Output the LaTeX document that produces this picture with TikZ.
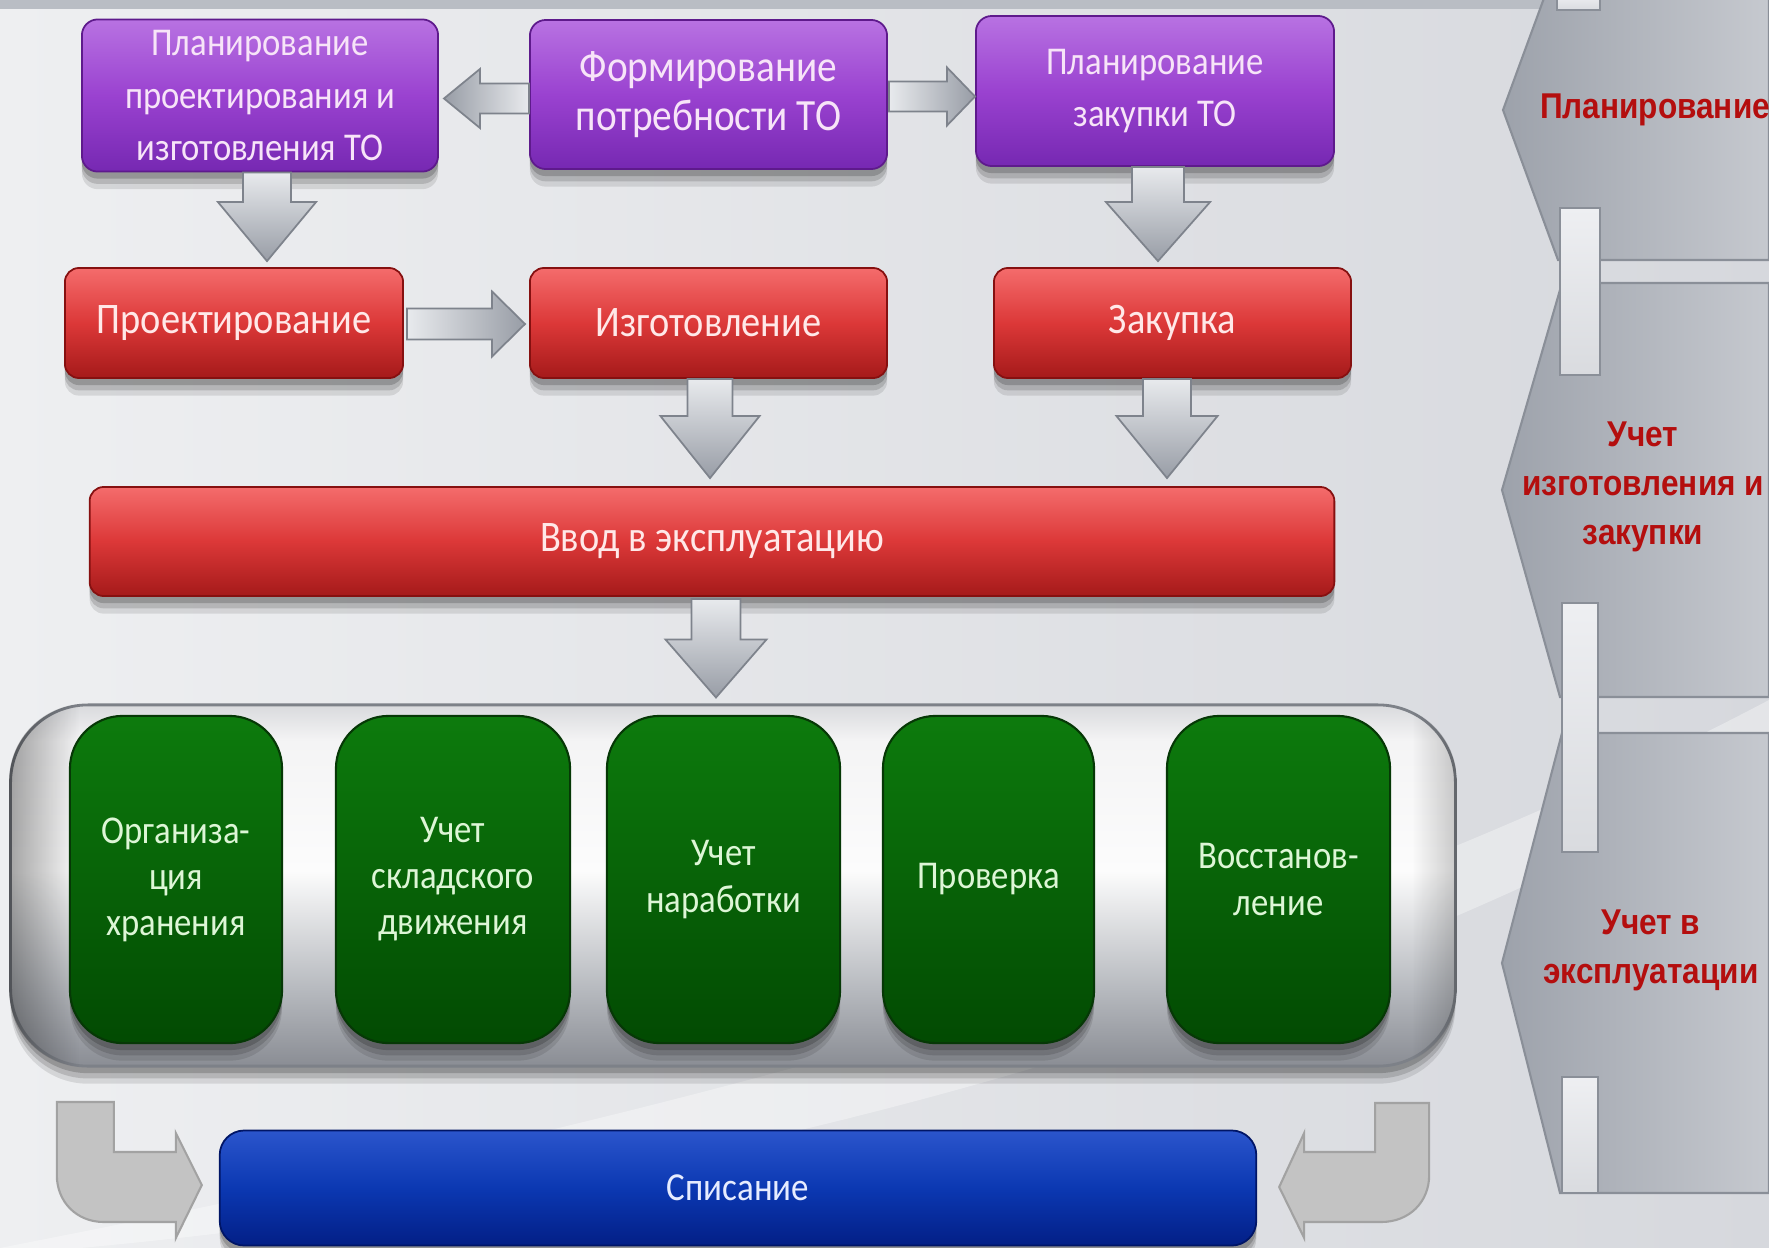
\documentclass[tikz,border=0pt]{standalone}
\usepackage{fontspec}
\setmainfont{Carlito}[FakeStretch=0.88]
\newfontfamily\labfont{Liberation Sans}[FakeStretch=0.88]
\usetikzlibrary{calc,shadows,fadings}

\definecolor{bgA}{HTML}{EEEFF1}
\definecolor{bgB}{HTML}{D6D8DD}
\definecolor{stripC}{HTML}{B9BDC4}
\definecolor{purT}{HTML}{B872E2}
\definecolor{purM}{HTML}{9A42D0}
\definecolor{purB}{HTML}{7628B2}
\definecolor{purE}{HTML}{5E1A8C}
\definecolor{purTxt}{HTML}{F7E4F8}
\definecolor{redT}{HTML}{F46C6C}
\definecolor{redM}{HTML}{DC3838}
\definecolor{redB}{HTML}{A51A1A}
\definecolor{redE}{HTML}{861010}
\definecolor{redTxt}{HTML}{FFE8E8}
\definecolor{grnT}{HTML}{0D7B0D}
\definecolor{grnB}{HTML}{024A02}
\definecolor{grnE}{HTML}{063806}
\definecolor{grnTxt}{HTML}{DDF6D6}
\definecolor{bluT}{HTML}{2B55CC}
\definecolor{bluM}{HTML}{0B38B2}
\definecolor{bluB}{HTML}{031F86}
\definecolor{bluE}{HTML}{001566}
\definecolor{bluTxt}{HTML}{E6ECFF}
\definecolor{arrL}{HTML}{E8EAED}
\definecolor{arrD}{HTML}{989DA6}
\definecolor{arrE}{HTML}{7E838C}
\definecolor{chevL}{HTML}{9DA2AB}
\definecolor{chevR}{HTML}{C6C9CF}
\definecolor{chevE}{HTML}{8A8F98}
\definecolor{tabT}{HTML}{EEEFF2}
\definecolor{tabB}{HTML}{D9DBDF}
\definecolor{labRed}{HTML}{B40E0E}
\definecolor{curvC}{HTML}{C3C3C3}
\definecolor{curvE}{HTML}{A2A2A2}
\definecolor{contE}{HTML}{7D8188}
\definecolor{cs1}{HTML}{8A8D94}
\definecolor{cs2}{HTML}{B8BBC0}
\definecolor{cs3}{HTML}{FCFCFC}
\definecolor{cs4}{HTML}{F4F4F5}
\definecolor{cs5}{HTML}{D9DADD}

\pgfdeclareverticalshading{contshade}{100bp}{color(0bp)=(cs1); color(25bp)=(cs1); color(36bp)=(cs2); color(52bp)=(cs3); color(70bp)=(cs4); color(75bp)=(cs5); color(100bp)=(cs5)}

\newcommand\fntPa{\fontsize{11.2pt}{15pt}\selectfont}
\newcommand\fntPb{\fontsize{12.7pt}{13.8pt}\selectfont}
\newcommand\fntR{\fontsize{12.4pt}{14pt}\selectfont}
\newcommand\fntG{\fontsize{11.2pt}{13.1pt}\selectfont}
\newcommand\fntS{\fontsize{11.3pt}{13pt}\selectfont}
\newcommand\fntL{\labfont\bfseries\fontsize{10.2pt}{13.9pt}\selectfont}

% block arrows: #1 start point, #2 tip, #3 shaft half width, #4 head half width, #5 head length
\newcommand\blkdown[5]{%
  \path[garrV] ($#1+(-#3,0)$) -- ($#2+(-#3,-#5)$) -- ($#2+(-#4,-#5)$) -- #2 -- ($#2+(#4,-#5)$) -- ($#2+(#3,-#5)$) -- ($#1+(#3,0)$) -- cycle;}
\newcommand\blkright[5]{%
  \path[garrR] ($#1+(0,-#3)$) -- ($#2+(-#5,-#3)$) -- ($#2+(-#5,-#4)$) -- #2 -- ($#2+(-#5,#4)$) -- ($#2+(-#5,#3)$) -- ($#1+(0,#3)$) -- cycle;}
\newcommand\blkleft[5]{%
  \path[garrL] ($#1+(0,-#3)$) -- ($#2+(#5,-#3)$) -- ($#2+(#5,-#4)$) -- #2 -- ($#2+(#5,#4)$) -- ($#2+(#5,#3)$) -- ($#1+(0,#3)$) -- cycle;}

\begin{document}
\begin{tikzpicture}[x=0.01cm,y=-0.01cm,
  softshadow/.style={
    drop shadow={shadow xshift=0pt, shadow yshift=-5pt, opacity=0.10, fill=black},
    drop shadow={shadow xshift=0pt, shadow yshift=-3.5pt, opacity=0.14, fill=black},
    drop shadow={shadow xshift=0pt, shadow yshift=-2pt, opacity=0.18, fill=black}},
  boxbase/.style={rectangle, align=center, inner sep=3pt, softshadow},
  pbox/.style={boxbase, rounded corners=4.5pt, top color=purT, bottom color=purB, middle color=purM,
    draw=purE, line width=0.5pt, text=purTxt},
  rbox/.style={boxbase, rounded corners=4pt, top color=redT, bottom color=redB, middle color=redM,
    draw=redE, line width=0.5pt, text=redTxt, font=\fntR, minimum height=1.10cm},
  gbox/.style={boxbase, rounded corners=15pt, top color=grnT, bottom color=grnB,
    draw=grnE, line width=0.6pt, text=grnTxt, font=\fntG, minimum height=3.27cm},
  bbox/.style={boxbase, rounded corners=7pt, top color=bluT, bottom color=bluB, middle color=bluM,
    draw=bluE, line width=0.5pt, text=bluTxt, font=\fntS},
  contbox/.style={rectangle, rounded corners=22pt, shade, shading=contshade, draw=contE, line width=0.8pt, softshadow},
  garrV/.style={top color=arrL, bottom color=arrD, draw=arrE, line width=0.5pt},
  garrR/.style={left color=arrL, right color=arrD, draw=arrE, line width=0.5pt},
  garrL/.style={right color=arrL, left color=arrD, draw=arrE, line width=0.5pt},
  chev/.style={left color=chevL, right color=chevR, draw=chevE, line width=0.6pt},
  tabbox/.style={top color=tabT, bottom color=tabB, draw=chevE, line width=0.5pt},
  curv/.style={fill=curvC, draw=curvE, line width=0.6pt},
  lab/.style={align=center, text=labRed, font=\fntL, inner sep=0pt}
]
\useasboundingbox (0,0) rectangle (1769,1248);
\clip (0,0) rectangle (1769,1248);

% background
\shade[left color=bgA, right color=bgB] (0,0) rectangle (1769,1248);
\fill[white, opacity=0.35] (0,1248) .. controls (500,1150) and (1200,1000) .. (1769,700) -- (1769,760) .. controls (1250,1060) and (600,1200) .. (80,1248) -- cycle;
\fill[stripC] (0,0) rectangle (1769,9);

% right side chevrons
\path[chev] (1558,-40) -- (1503,110) -- (1558,260) -- (1769,260) -- (1769,-40) -- cycle;
\path[chev] (1562,283) -- (1502,490) -- (1560,697) -- (1769,697) -- (1769,283) -- cycle;
\path[chev] (1562,733) -- (1502,963) -- (1560,1193) -- (1769,1193) -- (1769,733) -- cycle;
\path[tabbox] (1557,-5) rectangle (1600,10);
\path[tabbox] (1560,208) rectangle (1600,375);
\path[tabbox] (1562,603) rectangle (1598,852);
\path[tabbox] (1562,1077) rectangle (1598,1193);

\node[lab] (l1) at (1655,110) {Планирование};
\node[lab] (l2) at (1643,487) {Учет\\изготовления и\\закупки};
\node[lab] (l3) at (1651,950) {Учет в\\эксплуатации};

% container with green boxes
\node[contbox, minimum width=14.44cm, minimum height=3.61cm] (cont) at (733,885.5) {};
\begin{scope}
  \clip[rounded corners=22pt] (cont.north west) rectangle (cont.south east);
  \fill[black, fill opacity=0.35, path fading=east] (cont.north west) rectangle ($(cont.south west)+(70,0)$);
  \fill[black, fill opacity=0.2, path fading=west] ($(cont.north east)+(-45,0)$) rectangle (cont.south east);
\end{scope}

\node[gbox, minimum width=2.12cm] (g1) at (176,879.5) {Организа-\\ция\\хранения};
\node[gbox, minimum width=2.34cm] (g2) at (453,879.5) {Учет\\складского\\движения};
\node[gbox, minimum width=2.33cm] (g3) at (723.5,879.5) {Учет\\наработки};
\node[gbox, minimum width=2.11cm] (g4) at (988.5,879.5) {Проверка};
\node[gbox, minimum width=2.23cm] (g5) at (1278.5,879.5) {Восстанов-\\ление};

% purple boxes
\node[pbox, font=\fntPa, minimum width=3.56cm, minimum height=1.51cm] (p1) at (260,95.5) {Планирование\\проектирования и\\изготовления ТО};
\node[pbox, font=\fntPb, minimum width=3.57cm, minimum height=1.49cm] (p2) at (708.5,94.5) {Формирование\\потребности ТО};
\node[pbox, font=\fntPa, minimum width=3.58cm, minimum height=1.50cm] (p3) at (1155,91) {Планирование\\закупки ТО};

% red boxes
\node[rbox, minimum width=3.38cm] (r1) at (234,323) {Проектирование};
\node[rbox, minimum width=3.57cm] (r2) at (708.5,323) {Изготовление};
\node[rbox, minimum width=3.57cm] (r3) at (1172.5,323) {Закупка};
\node[rbox, minimum width=12.44cm, minimum height=1.09cm] (vv) at (712,541.5) {Ввод в эксплуатацию};

% blue box
\node[bbox, minimum width=10.36cm, minimum height=1.15cm] (sp) at (738,1188) {Списание};

% block arrows
\coordinate (a12s) at ($(p2.west)+(0,4)$);
\coordinate (a12t) at ($(a12s -| p1.east)+(5,0)$);
\blkleft{(a12s)}{(a12t)}{15}{29.5}{36}
\coordinate (a23s) at ($(p2.east)+(1,2)$);
\coordinate (a23t) at (a23s -| p3.west);
\blkright{(a23s)}{(a23t)}{15}{29}{28}
\coordinate (d1s) at ($(p1.south)+(7,0)$);
\coordinate (d1t) at ($(d1s |- r1.north)+(0,-6)$);
\blkdown{(d1s)}{(d1t)}{24}{49}{59}
\coordinate (d3s) at ($(p3.south)+(3,0)$);
\coordinate (d3t) at ($(d3s |- r3.north)+(0,-6)$);
\blkdown{(d3s)}{(d3t)}{26}{52}{59}
\coordinate (r12s) at ($(r1.east)+(3,1)$);
\coordinate (r12t) at ($(r12s -| r2.west)+(-4,0)$);
\blkright{(r12s)}{(r12t)}{15.5}{32.5}{33}
\coordinate (d2s) at ($(r2.south)+(1.5,0)$);
\coordinate (d2t) at ($(d2s |- vv.north)+(0,-8)$);
\blkdown{(d2s)}{(d2t)}{22.5}{49.5}{62}
\coordinate (d4s) at ($(r3.south)+(-5.5,0)$);
\coordinate (d4t) at ($(d4s |- vv.north)+(0,-8)$);
\blkdown{(d4s)}{(d4t)}{24}{50.5}{62}
\coordinate (d5s) at ($(vv.south)+(4,2)$);
\coordinate (d5t) at ($(d5s |- cont.north)+(0,-6)$);
\blkdown{(d5s)}{(d5t)}{24.5}{50.5}{58}

% bent arrows to Списание
\coordinate (ltip) at ($(sp.west)+(-17,-3)$);
\coordinate (rtip) at ($(sp.east)+(22,-1)$);
\begin{scope}[shift={(ltip)}]
  \path[curv] (-145,-83) -- (-88,-83) -- (-88,-33) -- (-26,-33) -- (-26,-52) -- (0,0) -- (-26,53) -- (-26,37) -- (-98,37) .. controls (-125,37) and (-145,17) .. (-145,-10) -- cycle;
\end{scope}
\begin{scope}[shift={(rtip)}]
  \path[curv] (150,-84) -- (96,-84) -- (96,-35) -- (25,-35) -- (25,-54) -- (0,0) -- (25,51) -- (25,35) -- (102,35) .. controls (130,35) and (150,15) .. (150,-12) -- cycle;
\end{scope}
\end{tikzpicture}
\end{document}
